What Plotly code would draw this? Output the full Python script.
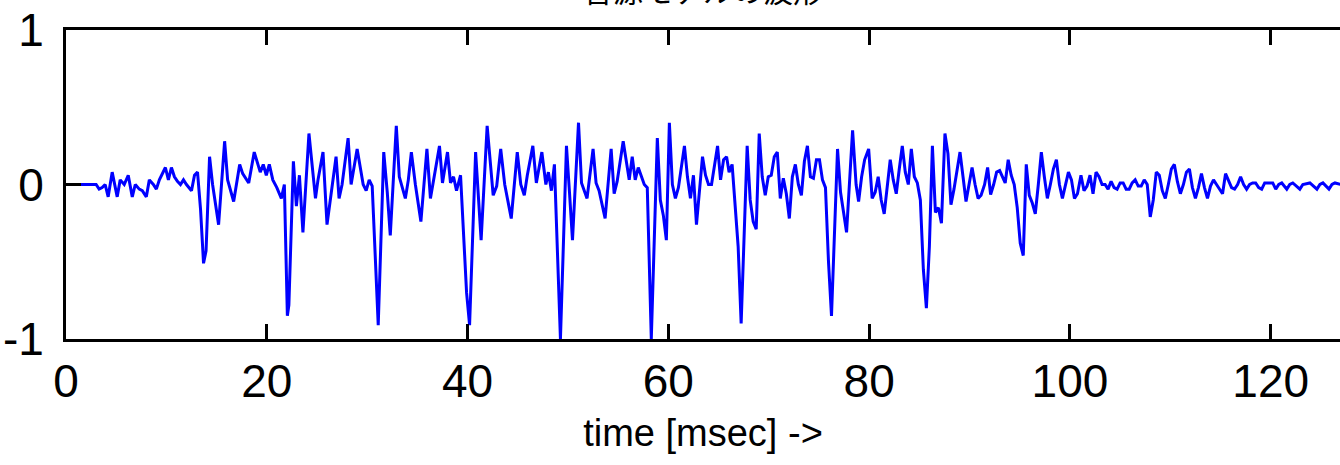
import plotly.graph_objects as go

title_text = "音源モデルの波形"
x_label = "time [msec] ->"
x_ticks = [0, 20, 40, 60, 80, 100, 120]
y_ticks = [-1, 0, 1]

t_ms = [
    0.0, 3.0, 3.3, 3.6, 3.9, 4.2, 4.6, 5.1, 5.4, 5.8, 6.2, 6.6, 6.9, 7.3, 7.6, 8.0, 8.3, 8.7, 9.0, 9.3,
    9.9, 10.2, 10.5, 10.8, 11.1, 11.4, 11.7, 12.0,
    12.5, 12.8, 13.1, 13.4, 13.7, 13.95, 14.3, 14.6, 15.2, 15.8, 16.1, 16.7, 17.3, 17.6, 18.2, 18.75,
    19.35, 19.65, 19.95, 20.25, 20.6, 21.0, 21.45, 21.75, 22.05, 22.2, 22.65, 22.95, 23.25, 23.6, 24.2,
    24.85, 25.1, 25.6, 26.0, 26.9, 27.2, 27.5, 28.1, 28.4, 29.0, 29.6, 29.9, 30.2, 30.5, 31.1, 31.65,
    32.0, 32.3, 32.9, 33.2, 33.5, 33.8, 34.1, 34.4, 34.8, 35.35, 35.95, 36.3, 37.2, 37.5, 38.0, 38.3,
    38.6, 38.9, 39.3, 39.9, 40.2, 40.8, 41.35, 41.95, 42.55, 42.9, 43.3, 43.7, 44.35, 44.95, 45.3,
    45.65, 45.95, 46.5, 46.85, 47.4, 47.8, 48.05, 48.35, 48.65, 49.25, 49.85, 50.15, 50.45, 51.05,
    51.35, 51.9, 52.5, 52.8, 53.1, 53.7, 54.3, 54.6, 54.9, 55.5, 56.1, 56.4, 56.7, 57.0, 57.3, 57.6,
    57.9, 58.3, 58.9, 59.2, 59.5, 59.8, 60.1, 60.4, 60.7, 61.0, 61.6, 61.9, 62.2, 62.5, 62.8, 63.4,
    63.7, 64.0, 64.3, 64.9, 65.2, 65.5, 65.8, 66.05, 66.35, 66.65, 66.95, 67.25, 67.85, 68.15, 68.45,
    68.75, 69.05, 69.35, 69.65, 69.95, 70.25, 70.55, 70.85, 71.15, 71.45, 71.75, 72.05, 72.35, 72.65,
    72.95, 73.25, 73.55, 73.85, 74.15, 74.45, 74.75, 75.05, 75.35, 75.65, 75.95, 76.25, 76.85, 77.15,
    77.45, 77.75, 78.35, 78.7, 78.95, 79.25, 79.55, 79.95, 80.3, 80.6, 80.9, 81.2, 81.5, 81.8, 82.1,
    82.4, 82.7, 83.0, 83.3, 83.6, 83.9, 84.2, 84.5, 84.8, 85.1, 85.4, 85.7, 86.0, 86.3, 86.6, 86.9,
    87.2, 87.55, 87.85, 88.15, 88.45, 88.75, 89.05, 89.35, 89.65, 89.95, 90.25, 90.55, 90.85, 91.15,
    91.5, 91.8, 92.1, 92.4, 92.7, 93.0, 93.3, 93.55, 93.85, 94.15, 94.45, 94.75, 95.05, 95.35, 95.65,
    95.95, 96.25, 96.55, 96.85, 97.15, 97.45, 97.75, 98.05, 98.35, 98.65, 98.95, 99.25, 99.55, 99.85,
    100.15, 100.45, 100.75, 101.1, 101.4, 101.7, 102.0, 102.3, 102.6, 102.9, 103.2, 103.5, 103.8,
    104.1, 104.4, 104.7, 105.0, 105.3, 105.6, 105.9, 106.2, 106.5, 106.8, 107.1, 107.4, 107.7, 108.0,
    108.3, 108.6, 108.9, 109.2, 109.5, 109.8, 110.1, 110.4, 110.7, 111.0, 111.3, 111.6, 111.9, 112.2,
    112.5, 112.8, 113.1, 113.4, 113.7, 114.0, 114.3, 114.6, 114.9, 115.2, 115.5, 115.8, 116.1, 116.4,
    116.7, 117.0, 117.3, 117.6, 117.9, 118.2, 118.5, 118.8, 119.1, 119.4, 120.2, 120.5, 120.8, 121.1,
    121.6, 121.9, 122.2, 122.9, 123.2, 123.9, 124.6, 124.9, 125.2, 125.8, 126.1, 126.4, 127.0, 128.0,
]

amp = [
    0.0, 0.0, -0.03, -0.02, 0.0, -0.08, 0.08, -0.08, 0.03, 0.0, 0.06, -0.08, 0.0, -0.03, -0.04, -0.08, 0.03, 0.0, -0.03, 0.03,
    0.11, 0.03, 0.11, 0.05, 0.02, 0.0, 0.03, 0.0,
    -0.04, 0.06, 0.08, -0.16, -0.51, -0.43, 0.18, 0.0, -0.26, 0.28, 0.03, -0.11, 0.13, 0.07, 0.01, 0.21,
    0.08, 0.13, 0.06, 0.13, 0.03, -0.02, -0.09, 0.0, -0.85, -0.78, 0.15, -0.14, 0.06, -0.31, 0.33,
    -0.09, 0.03, 0.21, -0.26, 0.18, -0.09, 0.0, 0.30, 0.0, 0.23, 0.0, -0.04, 0.03, -0.01, -0.91, 0.21,
    -0.05, -0.33, 0.38, 0.05, -0.03, -0.09, 0.03, 0.21, 0.0, -0.24, 0.23, -0.09, 0.25, 0.01, 0.21, 0.01,
    0.05, -0.04, 0.06, -0.70, -0.91, 0.21, -0.36, 0.38, -0.07, -0.01, 0.23, 0.0, -0.22, 0.21, 0.0,
    -0.07, 0.06, 0.25, 0.01, 0.21, 0.0, 0.08, -0.04, 0.13, -1.0, 0.25, -0.05, -0.36, 0.40,
    0.01, -0.09, 0.23, 0.01, -0.04, -0.22, 0.23, -0.06, 0.02, 0.28, 0.03, 0.18, 0.03, 0.11, 0.06, 0.0,
    -0.02, -1.0, 0.30, -0.10, -0.20, -0.36, 0.40, 0.0, -0.09, -0.02, 0.25, 0.05, -0.09, 0.06, -0.26, 0.18,
    0.06, 0.0, 0.0, 0.25, 0.03, 0.16, 0.18, 0.08, 0.13, -0.11, -0.40, -0.90, 0.25, -0.10, -0.24,
    -0.29, 0.33, 0.05, -0.07, 0.05, 0.06, 0.18, 0.21, -0.09, 0.04, -0.06, -0.22, 0.05, 0.13,
    0.0, -0.07, 0.15, 0.25, 0.05, 0.04, 0.16, 0.16, 0.03, -0.02, -0.50, -0.85, 0.23, -0.05,
    -0.18, -0.31, 0.35, 0.0, -0.11, 0.05, 0.16, 0.23, -0.09, -0.05, 0.05, -0.10, -0.19, 0.0, 0.16,
    0.03, -0.06, 0.10, 0.25, 0.08, 0.0, 0.23, 0.05, 0.01, -0.10, -0.55, -0.80, -0.40, 0.25, -0.18, -0.15,
    -0.25, 0.33, 0.20, -0.13, -0.03, 0.10, 0.21, 0.05, -0.11, 0.0, 0.11, 0.0, -0.09, -0.07,
    0.0, 0.11, -0.065, 0.0, 0.08, 0.09, 0.04, 0.01, 0.16, 0.06, 0.0, -0.15, -0.38, -0.46, 0.13,
    -0.07, -0.12, -0.19, 0.0, 0.21, 0.05, -0.09, 0.0, 0.10, 0.16, 0.0, -0.09, 0.0, 0.08,
    0.03, -0.09, -0.06, 0.06, -0.04, -0.01, 0.06, -0.06, 0.08, 0.05, 0.0, 0.0, -0.03,
    0.02, -0.02, -0.03, 0.01, 0.01, -0.03, -0.03, 0.01, 0.03, -0.01, -0.01, 0.03, 0.0, -0.21,
    -0.10, 0.08, 0.06, -0.04, -0.09, 0.0, 0.10, 0.13, 0.02, -0.06, 0.0, 0.08, 0.10, -0.02,
    -0.09, -0.02, 0.07, -0.02, -0.09, -0.01, 0.03, 0.0, -0.03, -0.06, 0.07, 0.03, -0.02, -0.03,
    0.0, 0.05, 0.0, -0.03, 0.0, 0.01, 0.01, -0.02, -0.03, 0.01, 0.01, -0.03, 0.0, 0.01,
    -0.03, 0.0, 0.01, -0.03, 0.0, 0.01, -0.03, 0.0, 0.01, -0.03, 0.0, 0.01, 0.0, 0.0,
]

FONT = "Liberation Sans, Arial, sans-serif"

fig = go.Figure()
fig.add_trace(go.Scatter(
    x=t_ms, y=amp, mode="lines",
    line=dict(color="#0000ff", width=3),
    hoverinfo="skip", showlegend=False,
))

fig.update_layout(
    width=1340, height=465,
    margin=dict(l=66, r=0, t=30, b=126, autoexpand=False),
    paper_bgcolor="white", plot_bgcolor="white",
    font=dict(family=FONT, color="black", size=40),
    annotations=[dict(
        text=title_text, xref="paper", yref="paper", x=0.5, y=1,
        xanchor="center", yanchor="bottom", yshift=17, showarrow=False,
        font=dict(family="Noto Sans CJK JP", size=30, color="black"),
    )],
)

fig.update_xaxes(
    range=[0, 126.9], tickvals=x_ticks, ticktext=[str(v) for v in x_ticks],
    showgrid=False, zeroline=False, automargin=False,
    showline=True, linecolor="black", linewidth=3, mirror="ticks",
    ticks="inside", ticklen=15, tickwidth=3, tickcolor="black",
    tickfont=dict(family=FONT, size=46, color="black"), ticklabelstandoff=0,
    title=dict(text=x_label, font=dict(family=FONT, size=38, color="black"), standoff=14),
)
fig.update_yaxes(
    range=[-1, 1], tickvals=y_ticks, ticktext=["-1", "0", "1"],
    showgrid=False, zeroline=False, automargin=False,
    showline=True, linecolor="black", linewidth=3, mirror=False,
    ticks="inside", ticklen=15, tickwidth=3, tickcolor="black",
    tickfont=dict(family=FONT, size=46, color="black"), ticklabelstandoff=10,
)

fig.write_html(
    "out.html",
    config={"displayModeBar": False},
    post_script="document.body.style.margin='0';document.body.style.overflow='hidden';",
)
